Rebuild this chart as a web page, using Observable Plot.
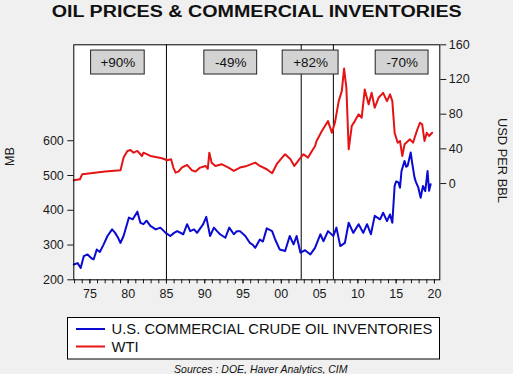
<!DOCTYPE html>
<html>
<head>
<meta charset="utf-8">
<script src="https://cdn.jsdelivr.net/npm/d3@7"></script>
<script src="https://cdn.jsdelivr.net/npm/@observablehq/plot@0.6"></script>
<style>
  html, body { margin: 0; padding: 0; background: #f0f0f0; }
  #chart { width: 513px; height: 374px; }
  svg { display: block; }
</style>
</head>
<body>
<div id="chart"></div>
<script>
// ---------- data ----------
const invTime = [1972.9,1973.4,1973.8,1974.2,1974.7,1975.2,1975.5,1975.9,1976.3,1976.8,1977.3,1977.9,1978.3,1978.7,1979.0,1979.4,1980.1,1980.6,1981.2,1981.6,1982.0,1982.4,1982.9,1983.6,1984.2,1984.9,1985.5,1986.0,1986.4,1987.2,1987.7,1988.1,1988.6,1989.0,1989.8,1990.2,1990.7,1991.2,1991.6,1992.0,1992.7,1993.2,1993.8,1994.2,1994.6,1995.3,1995.9,1996.3,1996.6,1997.2,1997.6,1998.1,1998.8,1999.2,1999.8,2000.5,2001.1,2001.6,2002.0,2002.5,2003.1,2003.8,2004.4,2005.1,2005.5,2006.1,2006.8,2007.2,2007.7,2008.3,2008.8,2009.4,2010.1,2010.7,2011.2,2011.7,2012.2,2012.9,2013.3,2013.8,2014.2,2014.5,2014.8,2015.0,2015.3,2015.5,2015.7,2016.1,2016.3,2016.5,2016.9,2017.1,2017.4,2017.6,2017.9,2018.2,2018.5,2018.8,2019.1,2019.3,2019.5];
const invValues = [244,248,234,268,273,262,259,287,280,302,326,345,335,320,306,326,379,374,396,364,360,370,355,345,350,335,326,335,340,331,360,340,345,335,360,381,326,350,340,331,321,350,331,340,340,326,306,300,292,316,310,348,340,316,287,283,326,302,326,278,285,273,292,331,311,340,326,350,297,306,364,335,360,335,360,331,384,374,393,369,388,364,470,483,480,465,513,542,525,528,566,535,494,480,465,436,470,455,513,456,475];

const wtiTime = [1972.9,1973.7,1974.0,1975.1,1977.0,1979.0,1979.4,1979.9,1980.3,1980.7,1981.2,1981.8,1982.0,1982.9,1983.6,1984.4,1985.1,1985.6,1985.9,1986.2,1986.6,1987.0,1987.7,1988.3,1988.8,1989.4,1990.1,1990.4,1990.6,1990.9,1991.4,1992.2,1993.1,1993.8,1994.6,1995.5,1996.6,1997.2,1998.1,1998.8,1999.4,2000.1,2000.5,2001.2,2001.7,2002.2,2002.9,2003.5,2004.0,2004.4,2004.6,2005.3,2005.7,2006.1,2006.6,2007.0,2007.5,2007.9,2008.2,2008.5,2008.8,2009.2,2009.6,2010.1,2010.5,2010.9,2011.4,2011.8,2012.2,2012.7,2013.3,2013.8,2014.2,2014.5,2014.8,2015.2,2015.5,2015.8,2016.1,2016.8,2017.2,2017.7,2018.1,2018.4,2018.7,2019.0,2019.3,2019.7];
const wtiValues = [3.9,5.0,10.8,12.0,13.8,15.4,29.9,37.6,38.7,35.6,37.6,31.8,35.6,31.8,30.7,29.2,26.9,28.0,18.4,12.6,14.0,18.4,21.5,15.4,13.8,18.4,20.3,17.0,35.6,24.1,20.3,22.3,18.4,14.6,18.4,20.3,24.1,20.3,16.5,11.9,22.3,29.9,33.8,28.0,20.3,26.1,33.8,29.9,37.6,43.0,49.1,60.6,66.3,72.0,58.6,70.1,95.0,106.6,132.6,110.0,39.5,66.3,72.0,79.8,75.9,108.5,91.3,104.6,87.4,98.9,104.6,95.0,102.8,95.0,58.6,47.1,49.1,31.8,45.3,51.0,47.1,60.6,70.1,68.3,49.1,58.6,54.8,58.6];

const eventYears = [1985.0, 2002.6, 2006.8];
const boxLabels = ["+90%", "-49%", "+82%", "-70%"];
const boxCenters = [1978.66, 1993.4, 2003.83, 2015.78];
const boxHalfWidths = [3.5, 3.45, 3.65, 3.45];

const leftTicks = [200, 300, 400, 500, 600];
const rightTicks = [0, 40, 80, 120, 160];
const minorYears = d3.range(1973, 2021);
const labelYears = d3.range(1975, 2021, 5);

const seriesNames = ["U.S. COMMERCIAL CRUDE OIL INVENTORIES", "WTI"];
const seriesColors = ["#0a0ad2", "#e41414"];

// ---------- scales ----------
const xDomain = [1972.9, 2020.7];
const leftDomain = [200, 876];
const rightDomain = [-111, 160];
const toLeft = d3.scaleLinear(rightDomain, leftDomain);

const inv = invTime.map((t, i) => ({t, v: invValues[i]}));
const wti = wtiTime.map((t, i) => ({t, v: wtiValues[i]}));
const boxes = boxLabels.map((label, i) => ({label, t: boxCenters[i], hw: boxHalfWidths[i]}));
const boxY1 = 790.5, boxY2 = 859.5, boxYm = 825;

const font = "'Liberation Sans', Arial, sans-serif";

const chart = Plot.plot({
  width: 513,
  height: 374,
  marginTop: 44.3,
  marginBottom: 94.7,
  marginLeft: 73.3,
  marginRight: 73.7,
  style: {background: "transparent", fontFamily: font, fontSize: "12.5px", color: "#1a1a1a", overflow: "visible"},
  x: {domain: xDomain},
  y: {domain: leftDomain},
  marks: [
    Plot.frame({fill: "white"}),
    Plot.ruleX(eventYears, {stroke: "black", strokeWidth: 1}),
    Plot.line(inv, {x: "t", y: "v", stroke: seriesColors[0], strokeWidth: 2, strokeLinejoin: "round"}),
    Plot.line(wti, {x: "t", y: d => toLeft(d.v), stroke: seriesColors[1], strokeWidth: 2, strokeLinejoin: "round"}),
    Plot.rect(boxes, {x1: d => d.t - d.hw, x2: d => d.t + d.hw, y1: boxY1, y2: boxY2, fill: "#d3d3d3", stroke: "#222", strokeWidth: 1}),
    Plot.text(boxes, {x: "t", y: boxYm, text: "label", fontSize: 13.5, fill: "#111"}),
    Plot.axisX({ticks: minorYears, tickFormat: () => "", tickSize: 4, label: null}),
    Plot.axisX({ticks: labelYears, tickFormat: d => String(d % 100).padStart(2, "0"), tickSize: 4, tickPadding: 5, label: null, fontSize: 12.5}),
    Plot.axisY({ticks: leftTicks, tickSize: 6, tickPadding: 4, label: null, fontSize: 12.5}),
    Plot.axisY({anchor: "right", ticks: rightTicks.map(toLeft), tickFormat: d => String(Math.round(toLeft.invert(d))), tickSize: 6, tickPadding: 3, label: null, fontSize: 12.5}),
    Plot.frame({stroke: "black", strokeWidth: 1})
  ]
});

document.getElementById("chart").appendChild(chart);

// ---------- text & legend ----------
const svg = d3.select(chart);
svg.append("text")
  .attr("x", 256.7).attr("y", 16.5)
  .attr("text-anchor", "middle")
  .attr("font-family", font).attr("font-weight", "bold").attr("font-size", 16)
  .attr("textLength", 410).attr("lengthAdjust", "spacingAndGlyphs")
  .attr("fill", "#111")
  .text("OIL PRICES & COMMERCIAL INVENTORIES");

svg.append("text")
  .attr("transform", "translate(14,156.5) rotate(-90)")
  .attr("text-anchor", "middle")
  .attr("font-family", font).attr("font-size", 12.5).attr("fill", "#1a1a1a")
  .text("MB");

svg.append("text")
  .attr("transform", "translate(498,160.5) rotate(90)")
  .attr("text-anchor", "middle")
  .attr("font-family", font).attr("font-size", 12.5).attr("fill", "#1a1a1a")
  .attr("textLength", 85).attr("lengthAdjust", "spacingAndGlyphs")
  .text("USD PER BBL");

const lg = svg.append("g");
lg.append("rect")
  .attr("x", 67.5).attr("y", 317.5).attr("width", 372).attr("height", 41.5)
  .attr("fill", "white").attr("stroke", "black").attr("stroke-width", 1);
const rowY = [329, 346.5];
seriesNames.forEach((name, i) => {
  lg.append("line")
    .attr("x1", 76).attr("x2", 105).attr("y1", rowY[i]).attr("y2", rowY[i])
    .attr("stroke", seriesColors[i]).attr("stroke-width", 2);
  lg.append("text")
    .attr("x", 111.5).attr("y", rowY[i] + 5.2)
    .attr("text-anchor", "start")
    .attr("font-family", font).attr("font-size", 14.8).attr("fill", "#111")
    .text(name);
});

svg.append("text")
  .attr("x", 260.8).attr("y", 373)
  .attr("text-anchor", "middle")
  .attr("font-family", font).attr("font-style", "italic").attr("font-size", 10.5).attr("fill", "#111")
  .text("Sources : DOE, Haver Analytics, CIM");
</script>
</body>
</html>
